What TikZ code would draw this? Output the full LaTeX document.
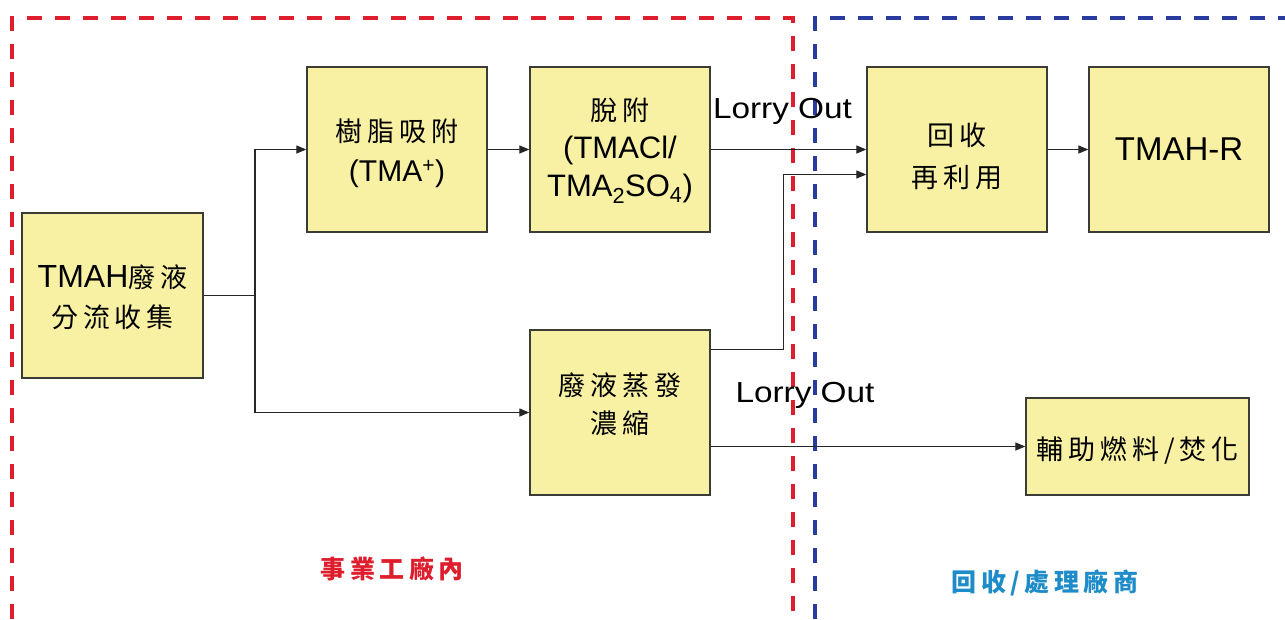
\documentclass[tikz,border=0pt]{standalone}
\usepackage{fontspec}
\usepackage{calc}
\setmainfont{Liberation Sans}
\newfontfamily\cj[LetterSpace=18]{Noto Sans CJK TC}
\usetikzlibrary{arrows.meta,calc}
\definecolor{boxyellow}{RGB}{248,241,164}
\definecolor{boxline}{RGB}{60,60,55}
\definecolor{zonered}{RGB}{222,30,45}
\definecolor{zoneblue}{RGB}{40,60,160}
\definecolor{labelblue}{RGB}{30,140,200}
% #1 extra height on top, #2 extra depth below, #3 baselineskip, #4 content
\newcommand\btxt[4]{\raisebox{0pt}[\height+#1][\depth+#2]{\parbox{178pt}{\centering\fontsize{27}{#3}\selectfont #4\par}}}
\newcommand\lat[2]{{\rmfamily\fontsize{#1}{#1}\selectfont #2}}
\tikzset{
  procbox/.style={draw=boxline, fill=boxyellow, line width=1.3pt, minimum width=180pt, minimum height=165pt, inner sep=0pt, text=black, font=\cj},
  flow/.style={draw=black!85, line width=1.2pt, -{Triangle[length=10pt,width=8pt]}},
  flowline/.style={draw=black!85, line width=1.2pt},
  zone/.style={line width=3.5pt, dash pattern=on 15pt off 13pt},
  lorry/.style={inner sep=0pt},
}
\begin{document}
\begin{tikzpicture}[x=1pt,y=-1pt]
\useasboundingbox (0,0) rectangle (1285,619);
\fill[white] (0,0) rectangle (1285,619);
% zones
\draw[zone, zonered] (12,619) -- (12,18) -- (793,18) -- (793,619);
\draw[zone, zoneblue] (815,619) -- (815,18) -- (1285,18);
% boxes
\node[procbox, minimum width=181pt] (A) at (112.5,295.5) {\btxt{4pt}{0pt}{40pt}{\lat{32}{TMAH}廢液\\分流收集}};
\node[procbox] (B) at (397,149.5) {\btxt{8pt}{0pt}{40pt}{樹脂吸附\\\lat{30}{(TMA\textsuperscript{+})}}};
\node[procbox] (C) at (620,149.5) {\btxt{2pt}{0pt}{38pt}{脫附\\\lat{31}{(TMACl/}\\\lat{31}{TMA\textsubscript{2}SO\textsubscript{4})}}};
\node[procbox] (D) at (620,412.5) {\btxt{0pt}{16pt}{38pt}{廢液蒸發\\濃縮}};
\node[procbox] (E) at (957,149.5) {\btxt{14pt}{0pt}{42pt}{回收\\再利用}};
\node[procbox] (F) at (1179,149.5) {\lat{33}{TMAH-R}};
\node[procbox, minimum width=223pt, minimum height=97pt] (G) at (1137.5,446.5) {\raisebox{0pt}[\height+8pt][\depth]{\fontsize{27}{30}\selectfont 輔助燃料/焚化}};
% connectors
\coordinate (J) at (255,295.5);
\draw[flowline] (A.east) -- (J);
\draw[flow] (J) |- (B.west);
\draw[flow] (J) |- (D.west);
\draw[flow] (B) -- (C);
\draw[flow] (C) -- (E);
\draw[flow] (F.west -| E.east) -- (F.west);
\coordinate (Dout) at ($(D.north east)+(0,20)$);
\coordinate (Ein) at ($(E.west)+(0,25)$);
\draw[flow] (Dout) -- ++(73,0) |- (Ein);
\draw[flow] (G.west -| D.east) -- (G.west);
% labels
\node[lorry] (L1) at (782.5,111) {\scalebox{1.15}[1]{\fontsize{29}{30}\selectfont Lorry Out}};
\node[lorry] (L2) at (805,395) {\scalebox{1.15}[1]{\fontsize{29}{30}\selectfont Lorry Out}};
\node[text=zonered, font={\cj\bfseries\fontsize{25}{30}\selectfont}, inner sep=0pt] (Z1) at (392,569) {事業工廠內};
\node[text=labelblue, font={\cj\bfseries\fontsize{25}{30}\selectfont}, inner sep=0pt] (Z2) at (1045,583) {回收/處理廠商};
\end{tikzpicture}
\end{document}
